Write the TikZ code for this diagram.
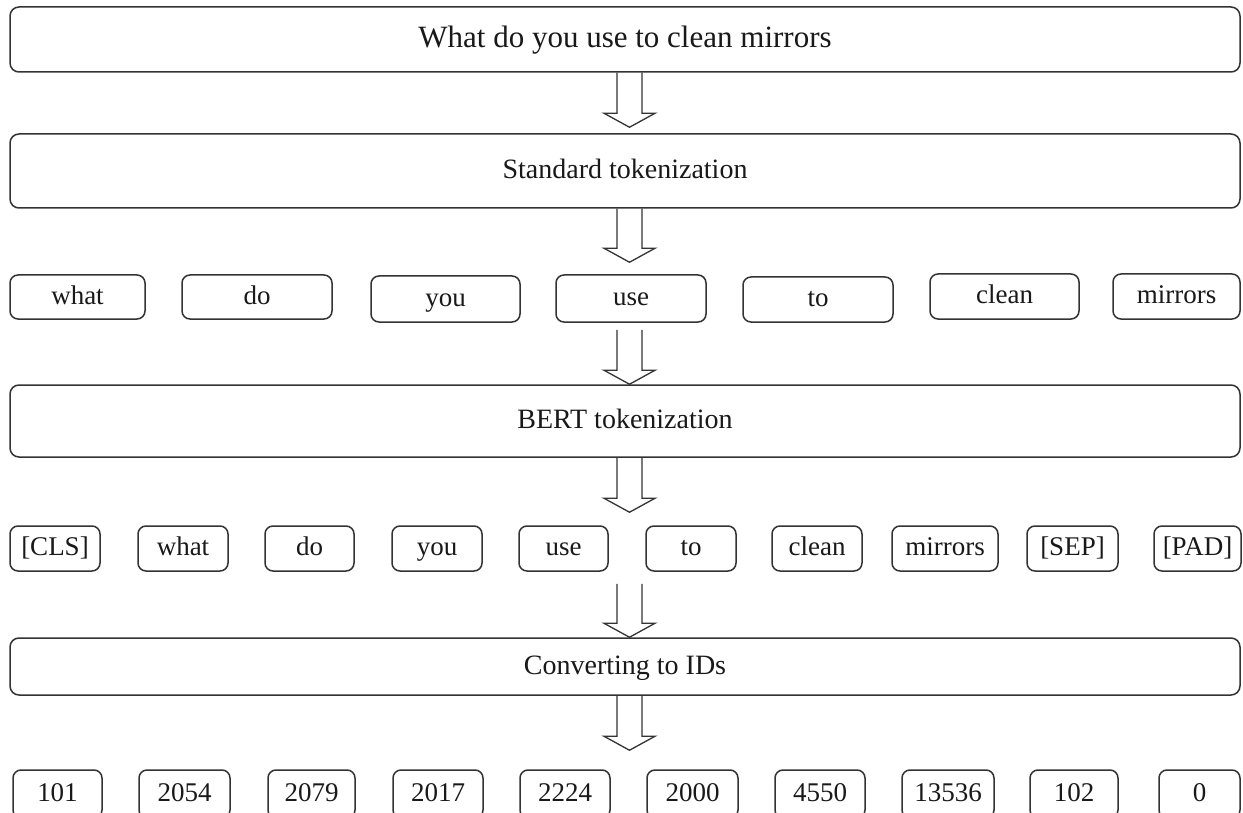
\documentclass[tikz,border=0pt]{standalone}
\usepackage{fontspec}
\setmainfont{Liberation Serif}
\usetikzlibrary{calc}

% rounded box given by its left/right/top/bottom edges
% #1 style, #2 name, #3 x-left, #4 x-right, #5 y-top, #6 y-bottom, #7 text
\newcommand{\edgebox}[7]{%
  \node[#1, minimum width={#4-#3}, minimum height={#6-#5}]
    (#2) at ({(#3+#4)/2},{(#5+#6)/2}) {#7};}

% hollow block arrow: stem starts at #1, tip ends at #2
\newcommand{\hollowarrow}[2]{%
  \draw[hollow] let \p1=(#1), \p2=(#2) in
    (\x1-12.5pt,\y1) -- (\x1-12.5pt,\y2+14pt) -- (\x1-25.5pt,\y2+14pt)
    -- (\x1,\y2) -- (\x1+25.5pt,\y2+14pt) -- (\x1+12.5pt,\y2+14pt)
    -- (\x1+12.5pt,\y1);}

\begin{document}
\begin{tikzpicture}[x=1pt,y=-1pt,
  box/.style={draw=black!80, line width=1.5pt, rounded corners=9pt,
    inner sep=0pt, text=black!90},
  stage/.style={box, font=\fontsize{28}{32}\selectfont,
    text height=19pt, text depth=4pt},
  title/.style={box, font=\fontsize{31}{36}\selectfont,
    text height=21pt, text depth=5pt},
  tok/.style={box, rounded corners=8pt, font=\fontsize{27}{30}\selectfont,
    text height=18.5pt, text depth=4pt},
  hollow/.style={draw=black!80, line width=1.3pt, line join=miter}]
\clip (0,0) rectangle (1243,813);
\fill[white] (0,0) rectangle (1243,813);

% stages
\edgebox{title}{q}{10}{1240}{7}{72}{What do you use to clean mirrors}
\edgebox{stage}{std}{10}{1240}{134}{208}{Standard tokenization}
\edgebox{stage}{bert}{10}{1240}{385}{457}{BERT tokenization}
\edgebox{stage}{conv}{10}{1240}{638}{695}{Converting to IDs}

% standard tokens
\edgebox{tok}{s1}{10}{145}{275}{319}{what}
\edgebox{tok}{s2}{182}{332}{275}{319}{do}
\edgebox{tok}{s3}{371}{520}{276}{322}{you}
\edgebox{tok}{s4}{556}{706}{275}{322}{use}
\edgebox{tok}{s5}{743}{893}{277}{322}{to}
\edgebox{tok}{s6}{930}{1079}{274}{319}{clean}
\edgebox{tok}{s7}{1113}{1240}{274}{319}{mirrors}

% BERT tokens
\edgebox{tok}{b1}{10}{100}{526}{571}{[CLS]}
\edgebox{tok}{b2}{138}{228}{526}{571}{what}
\edgebox{tok}{b3}{265}{354}{526}{571}{do}
\edgebox{tok}{b4}{392}{482}{526}{571}{you}
\edgebox{tok}{b5}{519}{608}{526}{571}{use}
\edgebox{tok}{b6}{646}{736}{526}{571}{to}
\edgebox{tok}{b7}{772}{862}{526}{571}{clean}
\edgebox{tok}{b8}{892}{998}{526}{571}{mirrors}
\edgebox{tok}{b9}{1027}{1118}{526}{571}{[SEP]}
\edgebox{tok}{b10}{1154}{1241}{526}{571}{[PAD]}

% token IDs
\edgebox{tok}{i1}{13}{102}{770}{818}{101}
\edgebox{tok}{i2}{139}{230}{770}{818}{2054}
\edgebox{tok}{i3}{268}{355}{770}{818}{2079}
\edgebox{tok}{i4}{393}{483}{770}{818}{2017}
\edgebox{tok}{i5}{520}{610}{770}{818}{2224}
\edgebox{tok}{i6}{647}{738}{770}{818}{2000}
\edgebox{tok}{i7}{775}{865}{770}{818}{4550}
\edgebox{tok}{i8}{902}{994}{770}{818}{13536}
\edgebox{tok}{i9}{1030}{1118}{770}{818}{102}
\edgebox{tok}{i10}{1159}{1240}{770}{818}{0}

% arrow column and arrow ends
\coordinate (ax) at (629.5,0);
\coordinate (a1s) at (q.south -| ax);
\coordinate (a1e) at ($(std.north -| ax)+(0,-6)$);
\coordinate (a2s) at (std.south -| ax);
\coordinate (a2e) at ($(s4.north -| ax)+(0,-12)$);
\coordinate (a3s) at ($(s4.south -| ax)+(0,7)$);
\coordinate (a3e) at (bert.north -| ax);
\coordinate (a4s) at (bert.south -| ax);
\coordinate (a4e) at ($(b5.north -| ax)+(0,-13)$);
\coordinate (a5s) at ($(b5.south -| ax)+(0,12)$);
\coordinate (a5e) at (conv.north -| ax);
\coordinate (a6s) at (conv.south -| ax);
\coordinate (a6e) at ($(i5.north -| ax)+(0,-19)$);

\hollowarrow{a1s}{a1e}
\hollowarrow{a2s}{a2e}
\hollowarrow{a3s}{a3e}
\hollowarrow{a4s}{a4e}
\hollowarrow{a5s}{a5e}
\hollowarrow{a6s}{a6e}
\end{tikzpicture}
\end{document}
